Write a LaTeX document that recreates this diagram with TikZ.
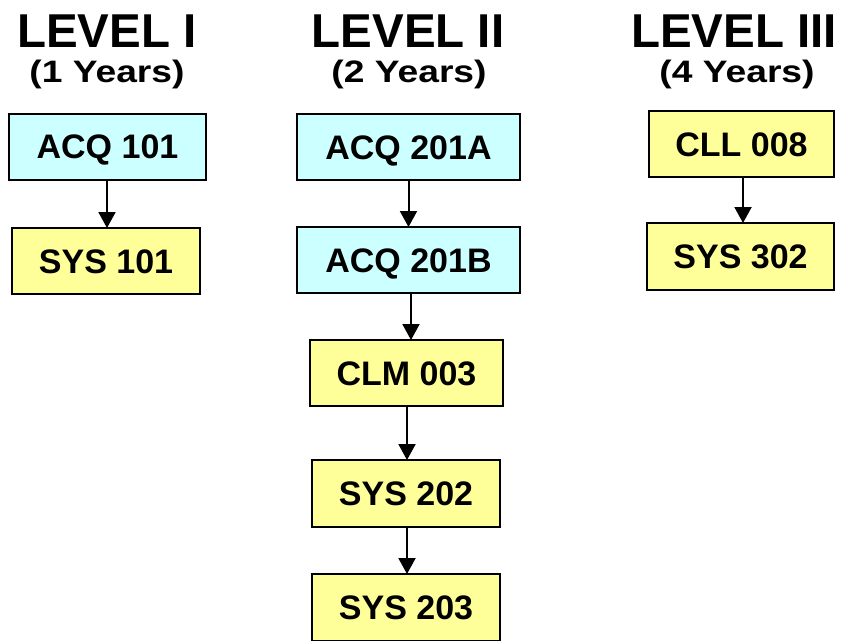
\documentclass[tikz,border=0pt]{standalone}
\usepackage{fontspec}
\setmainfont{Liberation Sans}
\usetikzlibrary{arrows.meta}
\definecolor{acqfill}{HTML}{CCFFFF}
\definecolor{sysfill}{HTML}{FFFF99}
\tikzset{
  course/.style={draw=black, line width=2pt, inner sep=0pt, outer sep=0pt,
    font=\fontsize{34}{34}\selectfont\bfseries, text height=24.5pt, text depth=0pt,
    minimum height=66pt},
  acq/.style={course, fill=acqfill},
  sys/.style={course, fill=sysfill},
  level/.style={anchor=base, inner sep=0pt, font=\fontsize{47.5}{47.5}\selectfont\bfseries},
  years/.style={anchor=base, inner sep=0pt, font=\fontsize{31}{31}\selectfont\bfseries},
  flow/.style={line width=2pt, -{Triangle[width=17pt,length=16pt]}}
}
\newcommand{\wide}[1]{\scalebox{1.2}[1]{#1}}
\begin{document}
\begin{tikzpicture}[x=1pt, y=-1pt]
  \useasboundingbox (0,0) rectangle (853,640);
  \clip (0,0) rectangle (853,640);

  % column headings
  \node[level] (l1) at (107,47) {LEVEL I};
  \node[years] (y1) at (107,82) {\wide{(1 Years)}};
  \node[level] (l2) at (408,47) {LEVEL II};
  \node[years] (y2) at (409,82) {\wide{(2 Years)}};
  \node[level] (l3) at (734,47) {LEVEL III};
  \node[years] (y3) at (737,82) {\wide{(4 Years)}};

  % Level I
  \node[acq, minimum width=197pt] (acq101) at (107.5,146.5) {ACQ 101};
  \node[sys, minimum width=188pt] (sys101) at (106,261) {SYS 101};

  % Level II
  \node[acq, minimum width=223pt] (acq201a) at (408.5,147) {ACQ 201A};
  \node[acq, minimum width=223pt] (acq201b) at (408.5,260) {ACQ 201B};
  \node[sys, minimum width=193pt] (clm003) at (406.5,373) {CLM 003};
  \node[sys, minimum width=188pt, minimum height=67pt] (sys202) at (406,493.5) {SYS 202};
  \node[sys, minimum width=188pt, minimum height=67pt] (sys203) at (406,607.5) {SYS 203};

  % Level III
  \node[sys, minimum width=185pt] (cll008) at (741.5,144) {CLL 008};
  \node[sys, minimum width=187pt, minimum height=67pt] (sys302) at (740.5,256.5) {SYS 302};

  % prerequisites
  \draw[flow] (acq101.south -| 107,0) -- (sys101.north -| 107,0);
  \draw[flow] (acq201a.south) -- (acq201b.north);
  \draw[flow] (acq201b.south -| 411,0) -- (clm003.north -| 411,0);
  \draw[flow] (clm003.south -| 407,0) -- (sys202.north -| 407,0);
  \draw[flow] (sys202.south -| 407,0) -- (sys203.north -| 407,0);
  \draw[flow] (cll008.south -| 743,0) -- (sys302.north -| 743,0);
\end{tikzpicture}
\end{document}
